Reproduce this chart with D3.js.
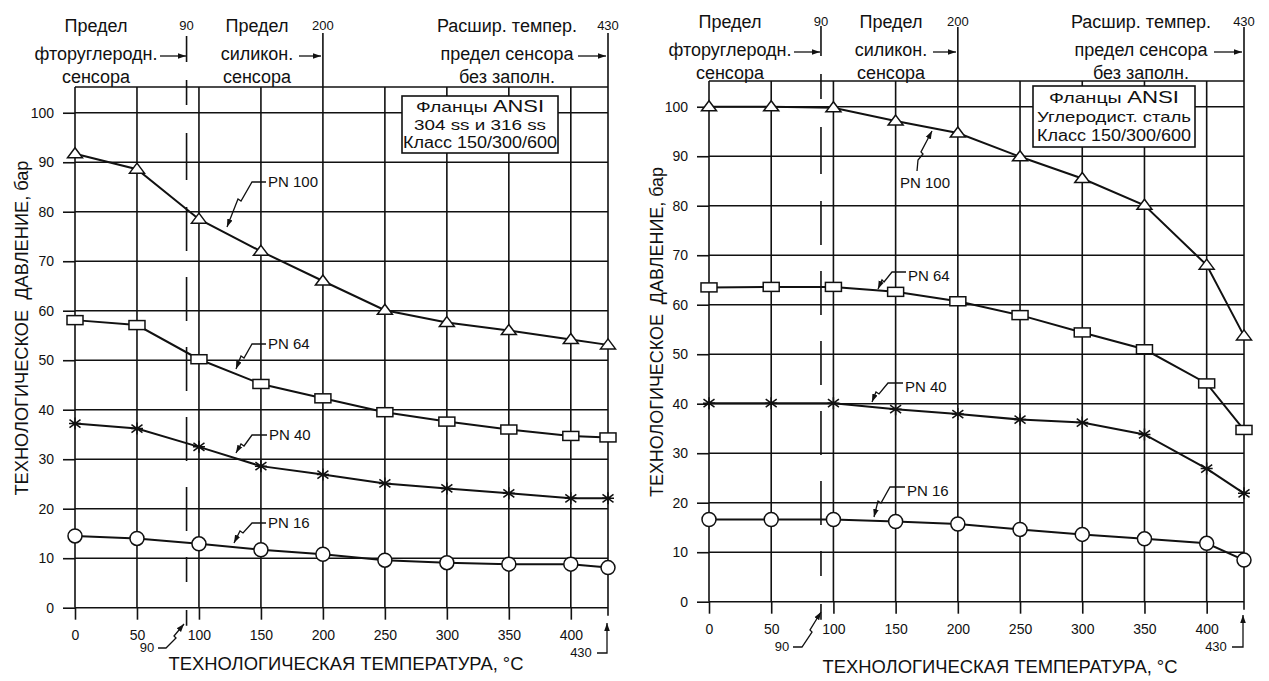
<!DOCTYPE html>
<html><head><meta charset="utf-8">
<script src="https://cdn.jsdelivr.net/npm/d3@7"></script>
<style>
html,body{margin:0;padding:0;background:#fff;}
svg{display:block;}
text{font-family:"Liberation Sans",Arial,sans-serif;fill:#111;}
</style></head><body>
<svg id="chart" width="1269" height="681"></svg>
<script>
// ---------------- DATA ----------------
const temps = [0, 50, 100, 150, 200, 250, 300, 350, 400, 430];
const xTickValues = [0, 50, 100, 150, 200, 250, 300, 350, 400];
const yTickValues = [0, 10, 20, 30, 40, 50, 60, 70, 80, 90, 100];
const seriesNames = ["PN 100", "PN 64", "PN 40", "PN 16"];
const markerTypes = ["triangle", "rect", "star", "circle"];

// Left: 304 ss / 316 ss
const leftPN100 = [91.7, 88.6, 78.5, 72.0, 66.0, 60.1, 57.6, 56.0, 54.2, 53.1];
const leftPN64  = [58.1, 57.1, 50.2, 45.2, 42.3, 39.5, 37.6, 36.0, 34.7, 34.4];
const leftPN40  = [37.2, 36.2, 32.5, 28.6, 26.9, 25.1, 24.1, 23.1, 22.1, 22.1];
const leftPN16  = [14.5, 14.0, 12.9, 11.7, 10.8, 9.6, 9.1, 8.8, 8.8, 8.1];

// Right: carbon steel
const rightPN100 = [100, 100, 99.8, 97.1, 94.7, 89.9, 85.5, 80.1, 68.0, 53.7];
const rightPN64  = [63.5, 63.6, 63.6, 62.6, 60.7, 57.9, 54.4, 51.0, 44.1, 34.7];
const rightPN40  = [40.1, 40.1, 40.1, 38.9, 37.9, 36.8, 36.2, 33.8, 26.9, 21.9];
const rightPN16  = [16.6, 16.6, 16.6, 16.2, 15.7, 14.6, 13.6, 12.7, 11.8, 8.4];

const leftBoxLines  = ["Фланцы ANSI", "304 ss и 316 ss", "Класс 150/300/600"];
const rightBoxLines = ["Фланцы ANSI", "Углеродист. сталь", "Класс 150/300/600"];
const limitTemps = [90, 200, 430];
const limitTexts = [
  ["Предел", "фторуглеродн.", "сенсора"],
  ["Предел", "силикон.", "сенсора"],
  ["Расшир. темпер.", "предел сенсора", "без заполн."]
];
const xTitle = "ТЕХНОЛОГИЧЕСКАЯ ТЕМПЕРАТУРА, °C";
const yTitle = "ТЕХНОЛОГИЧЕСКОЕ  ДАВЛЕНИЕ, бар";
const xMax = 430, yTopValue = 105.2;

// ---------------- LAYOUT ----------------
const svg = d3.select("#chart");
const defs = svg.append("defs");
defs.append("marker").attr("id", "arr")
  .attr("viewBox", "0 0 10 10").attr("refX", 10).attr("refY", 5)
  .attr("markerWidth", 8).attr("markerHeight", 8)
  .attr("markerUnits", "userSpaceOnUse").attr("orient", "auto")
  .append("path").attr("d", "M0,1.5 L10,5 L0,8.5 Z").attr("fill", "#111");

const panels = [
  {
    series: [leftPN100, leftPN64, leftPN40, leftPN16], box: leftBoxLines,
    xr: [75, 608], yr: [607.7, 87], ts: 0,
    boxRect: [402, 96, 156, 57], boxBase: [112, 130, 148], boxW: [128, 132, 154],
    labels: [
      {t: [268, 182], p: [[266,182],[252,182],[241,201],[238,199],[227,227]]},
      {t: [268, 344], p: [[266,344],[252,344],[244,358],[241,356],[236,369]]},
      {t: [269, 435], p: [[267,435],[252,435],[244,446],[241,444],[236,453]]},
      {t: [268, 523], p: [[266,523],[252,523],[243,533],[240,531],[234,543]]}
    ],
    b90: {t: [147, 652], p: [[158,648],[166,648],[176,638],[174,636],[184,624]]},
    b430: {t: [581, 657], p: [[597,653],[607,653],[607,623]]},
    titleX: [346, 670, 355], titleY: [22, 328, 335],
    textCenters: [96, 257, 507], arrowX: [[160,186],[299,321],[578,606]]
  },
  {
    series: [rightPN100, rightPN64, rightPN40, rightPN16], box: rightBoxLines,
    xr: [709, 1244], yr: [601.7, 81], ts: -4,
    boxRect: [1033, 86, 162, 61], boxBase: [103, 122, 141], boxW: [130, 154, 154],
    labels: [
      {t: [900, 183], p: [[917,171],[918,160],[923,154],[921,152],[932,131]]},
      {t: [908, 276], p: [[906,272],[892,272],[884,282],[882,280],[878,289]]},
      {t: [905, 387], p: [[903,383],[888,383],[879,394],[876,392],[872,402]]},
      {t: [907, 491], p: [[905,487],[890,487],[881,503],[878,501],[874,517]]}
    ],
    b90: {t: [782, 651], p: [[793,647],[802,647],[812,632],[810,630],[821,612]]},
    b430: {t: [1216, 651], p: [[1232,647],[1243,647],[1243,615]]},
    titleX: [1000, 673, 355], titleY: [657, 332, 330],
    textCenters: [730, 891, 1141], arrowX: [[794,820],[933,956],[1214,1242]]
  }
];

const line = d3.line();

panels.forEach(P => {
  const x = d3.scaleLinear().domain([0, xMax]).range(P.xr);
  const y = d3.scaleLinear().domain([0, yTopValue]).range(P.yr);
  const g = svg.append("g");
  const y0 = y(0), yTop = y(yTopValue);

  // horizontal grid
  g.selectAll(".hg").data(yTickValues).join("line")
    .attr("x1", x(0)).attr("x2", x(xMax))
    .attr("y1", d => y(d)).attr("y2", d => y(d))
    .attr("stroke", "#111").attr("stroke-width", 1.6);
  g.append("line").attr("x1", x(0)).attr("x2", x(xMax))
    .attr("y1", yTop).attr("y2", yTop).attr("stroke", "#111").attr("stroke-width", 1.6);
  // vertical grid
  g.selectAll(".vg").data(xTickValues).join("line")
    .attr("x1", d => x(d)).attr("x2", d => x(d))
    .attr("y1", d => d === 200 ? yTop - 54 : yTop).attr("y2", y0)
    .attr("stroke", "#111").attr("stroke-width", 1.6);
  g.append("line").attr("x1", x(xMax)).attr("x2", x(xMax))
    .attr("y1", yTop - 54).attr("y2", y0 + 8).attr("stroke", "#111").attr("stroke-width", 1.6);

  // axes
  const ay = g.append("g").attr("transform", `translate(${x(0)},0)`)
    .call(d3.axisLeft(y).tickValues(yTickValues).tickSize(12).tickPadding(9));
  const ax = g.append("g").attr("transform", `translate(0,${y0})`)
    .call(d3.axisBottom(x).tickValues(xTickValues).tickSize(12).tickPadding(10));
  [ax, ay].forEach(a => {
    a.select(".domain").remove();
    a.selectAll(".tick line").attr("stroke", "#111").attr("stroke-width", 1.6);
    a.selectAll(".tick text").attr("font-size", 14)
      .attr("font-family", "'Liberation Sans',Arial,sans-serif").attr("fill", "#111");
  });

  // dashed 90 line
  g.append("line").attr("x1", x(90)).attr("x2", x(90))
    .attr("y1", yTop - 51 + P.ts).attr("y2", yTop - 25)
    .attr("stroke", "#111").attr("stroke-width", 1.6);
  g.append("line").attr("x1", x(90)).attr("x2", x(90))
    .attr("y1", yTop - 7).attr("y2", y0 + 18)
    .attr("stroke", "#111").attr("stroke-width", 1.6)
    .attr("stroke-dasharray", "25,28,47,27,44,26,44,26,44,26,44,26,44,26");

  // legend box
  const [bx, by, bw, bh] = P.boxRect;
  g.append("rect").attr("x", bx).attr("y", by).attr("width", bw).attr("height", bh)
    .attr("fill", "#fff").attr("stroke", "#111").attr("stroke-width", 1.6);
  P.box.forEach((s, i) => {
    const t = g.append("text").attr("x", bx + bw / 2).attr("y", P.boxBase[i])
      .attr("text-anchor", "middle").attr("font-size", i === 2 ? 16 : 15)
      .attr("textLength", P.boxW[i]).attr("lengthAdjust", "spacingAndGlyphs");
    if (i === 0) {
      const parts = s.split(" ");
      t.append("tspan").text(parts[0] + " ");
      t.append("tspan").attr("font-size", 17).text(parts[1]);
    } else t.text(s);
  });

  // series
  P.series.forEach((vals, si) => {
    const pts = temps.map((t, i) => [x(t), y(vals[i])]);
    g.append("path").attr("d", line(pts)).attr("fill", "none")
      .attr("stroke", "#111").attr("stroke-width", 2);
    const mk = markerTypes[si];
    pts.forEach(([px, py]) => {
      if (mk === "triangle") {
        g.append("path").attr("d", `M${px},${py-6} L${px+7.5},${py+4} L${px-7.5},${py+4} Z`)
          .attr("fill", "#fff").attr("stroke", "#111").attr("stroke-width", 1.5);
      } else if (mk === "rect") {
        g.append("rect").attr("x", px - 8).attr("y", py - 4.5).attr("width", 16).attr("height", 9)
          .attr("fill", "#fff").attr("stroke", "#111").attr("stroke-width", 1.5);
      } else if (mk === "circle") {
        g.append("circle").attr("cx", px).attr("cy", py).attr("r", 7)
          .attr("fill", "#fff").attr("stroke", "#111").attr("stroke-width", 1.5);
      } else {
        g.append("path").attr("d",
          `M${px},${py-6}V${py+6}M${px-5.5},${py-4}L${px+5.5},${py+4}M${px-5.5},${py+4}L${px+5.5},${py-4}M${px-6},${py}H${px+6}`)
          .attr("stroke", "#111").attr("stroke-width", 1.5);
      }
    });
  });

  // series labels with leaders
  P.labels.forEach((L, i) => {
    g.append("text").attr("x", L.t[0]).attr("y", L.t[1] + 5).attr("font-size", 15)
      .text(seriesNames[i]);
    g.append("path").attr("d", line(L.p)).attr("fill", "none")
      .attr("stroke", "#111").attr("stroke-width", 1.3).attr("marker-end", "url(#arr)");
  });

  // bottom 90 / 430 callouts
  g.append("text").attr("x", P.b90.t[0]).attr("y", P.b90.t[1]).attr("font-size", 13)
    .attr("text-anchor", "middle").text("90");
  g.append("path").attr("d", line(P.b90.p)).attr("fill", "none")
    .attr("stroke", "#111").attr("stroke-width", 1.3).attr("marker-end", "url(#arr)");
  g.append("text").attr("x", P.b430.t[0]).attr("y", P.b430.t[1]).attr("font-size", 13)
    .attr("text-anchor", "middle").text("430");
  g.append("path").attr("d", line(P.b430.p)).attr("fill", "none")
    .attr("stroke", "#111").attr("stroke-width", 1.3).attr("marker-end", "url(#arr)");

  // top limit labels
  limitTemps.forEach((lt, i) => {
    g.append("text").attr("x", x(lt)).attr("y", 30 + P.ts).attr("font-size", 13)
      .attr("text-anchor", "middle").text(lt);
    limitTexts[i].forEach((s, j) => {
      g.append("text").attr("x", P.textCenters[i]).attr("y", [32, 60, 83][j] + P.ts)
        .attr("font-size", 18).attr("text-anchor", "middle").text(s);
    });
    g.append("line").attr("x1", P.arrowX[i][0]).attr("x2", P.arrowX[i][1])
      .attr("y1", 56 + P.ts).attr("y2", 56 + P.ts)
      .attr("stroke", "#111").attr("stroke-width", 1.3).attr("marker-end", "url(#arr)");
  });

  // axis titles
  g.append("text").attr("x", P.titleX[0]).attr("y", P.titleX[1]).attr("font-size", 18)
    .attr("text-anchor", "middle").attr("textLength", P.titleX[2])
    .attr("lengthAdjust", "spacingAndGlyphs").text(xTitle);
  g.append("text").attr("transform", `translate(${P.titleY[0] + 6},${P.titleY[1]}) rotate(-90)`)
    .attr("font-size", 18).attr("text-anchor", "middle").style("white-space", "pre")
    .attr("textLength", P.titleY[2]).attr("lengthAdjust", "spacingAndGlyphs").text(yTitle);
});
</script>
</body></html>
